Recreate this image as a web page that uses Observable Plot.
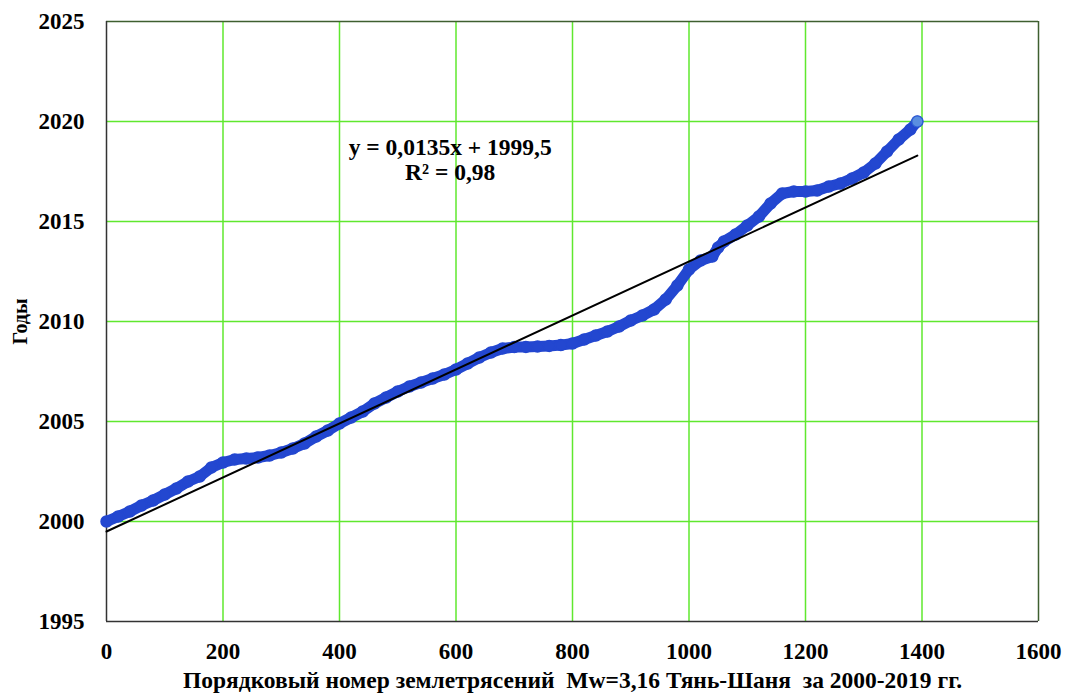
<!DOCTYPE html>
<html>
<head>
<meta charset="utf-8">
<script src="https://cdn.jsdelivr.net/npm/d3@7"></script>
<script src="https://cdn.jsdelivr.net/npm/@observablehq/plot@0.6"></script>
<style>
  html, body { margin: 0; padding: 0; background: #fff; }
  #chart svg { display: block; }
  #chart svg, #chart svg text, #chart svg g { font-family: "Liberation Serif", "Times New Roman", serif !important; font-weight: bold; }
  g[aria-label="x-axis label"] text { font-size: 23.5px; }
  g[aria-label="y-axis label"] text { font-size: 20px; }
</style>
</head>
<body>
<div id="chart"></div>
<script>
// Event sequence number (x) and time in decimal years (y)
const eventIndex = [0, 20, 40, 60, 80, 100, 120, 140, 160, 180, 200, 220, 240, 260, 280, 300, 320, 340, 360, 380,
  400, 420, 440, 460, 480, 500, 520, 540, 560, 580, 600, 620, 640, 660, 680, 700, 720, 740, 760, 780,
  800, 820, 840, 860, 880, 900, 920, 940, 960, 980, 1000, 1020, 1040, 1050, 1060, 1080, 1100, 1120, 1140, 1160,
  1180, 1200, 1220, 1240, 1260, 1280, 1300, 1320, 1340, 1360, 1380, 1392];
const eventYear = [2000.0, 2000.25, 2000.5, 2000.8, 2001.05, 2001.35, 2001.65, 2002.0, 2002.25, 2002.7, 2002.95, 2003.1, 2003.15, 2003.2, 2003.3, 2003.45, 2003.65, 2003.9, 2004.25, 2004.55,
  2004.9, 2005.2, 2005.5, 2005.9, 2006.2, 2006.5, 2006.75, 2006.95, 2007.15, 2007.35, 2007.6, 2007.9, 2008.2, 2008.45, 2008.65, 2008.72, 2008.73, 2008.75, 2008.78, 2008.82,
  2008.9, 2009.1, 2009.3, 2009.5, 2009.75, 2010.05, 2010.3, 2010.6, 2011.1, 2011.8, 2012.6, 2013.05, 2013.25, 2013.7, 2014.0, 2014.35, 2014.8, 2015.25, 2015.9, 2016.4,
  2016.5, 2016.5, 2016.55, 2016.75, 2016.9, 2017.15, 2017.45, 2017.9, 2018.5, 2019.1, 2019.6, 2020.0];

// Linear trend
const trendSlope = 0.0135;
const trendIntercept = 1999.5;
const trendLabels = ["y = 0,0135x + 1999,5", "R² = 0,98"];

const xTicks = [0, 200, 400, 600, 800, 1000, 1200, 1400, 1600];
const yTicks = [1995, 2000, 2005, 2010, 2015, 2020, 2025];

const xTitle = "Порядковый номер землетрясений  Mw=3,16 Тянь-Шаня  за 2000-2019 гг.";
const yTitle = "Годы";

const data = eventIndex.map((x, i) => ({x, y: eventYear[i]}));
const xEnd = eventIndex[eventIndex.length - 1];
const trend = [0, xEnd].map(x => ({x, y: trendSlope * x + trendIntercept}));
const labelRows = trendLabels.map((t, i) => ({t, i}));

const blue = "#2347d0";

const chart = Plot.plot({
  width: 1066,
  height: 694,
  marginLeft: 106,
  marginRight: 28,
  marginTop: 21,
  marginBottom: 73,
  style: {fontSize: "23px", color: "#000", background: "#fff"},
  x: {domain: [0, 1600]},
  y: {domain: [1995, 2025]},
  marks: [
    Plot.gridX(xTicks.slice(1, -1), {stroke: "#5fe82e", strokeOpacity: 1, strokeWidth: 1.5}),
    Plot.gridY(yTicks.slice(1, -1), {stroke: "#5fe82e", strokeOpacity: 1, strokeWidth: 1.5}),
    Plot.ruleY([2025], {stroke: "#3f5f30", strokeWidth: 1.5}),
    Plot.ruleX([1600], {stroke: "#3f5f30", strokeWidth: 1.5}),
    Plot.ruleX([0], {stroke: "#333", strokeWidth: 1.5}),
    Plot.ruleY([1995], {stroke: "#333", strokeWidth: 1.5}),
    Plot.axisX(xTicks, {tickSize: 0, tickPadding: 21, fontSize: 23, tickFormat: d => String(d), label: xTitle, labelAnchor: "center", labelArrow: "none", labelOffset: 66}),
    Plot.axisY(yTicks, {tickSize: 0, tickPadding: 22, fontSize: 23, tickFormat: d => String(d), label: yTitle, labelAnchor: "center", labelArrow: "none", labelOffset: 94}),
    Plot.line(data, {x: "x", y: "y", stroke: blue, strokeWidth: 11, strokeLinecap: "round", strokeLinejoin: "round"}),
    Plot.dot(data, {x: "x", y: "y", r: 5.5, fill: blue, stroke: blue}),
    Plot.dot(data.slice(-1), {x: "x", y: "y", r: 5.5, fill: "#5a8ee0", stroke: "#2f5fd4", strokeWidth: 1.2}),
    Plot.line(trend, {x: "x", y: "y", stroke: "#000", strokeWidth: 2}),
    Plot.text(labelRows, {x: () => 590, y: d => 2018.7 - d.i * 1.25, text: "t", fontSize: 23.5, fontWeight: "bold", fill: "#000"})
  ]
});
document.getElementById("chart").appendChild(chart);
</script>
</body>
</html>
